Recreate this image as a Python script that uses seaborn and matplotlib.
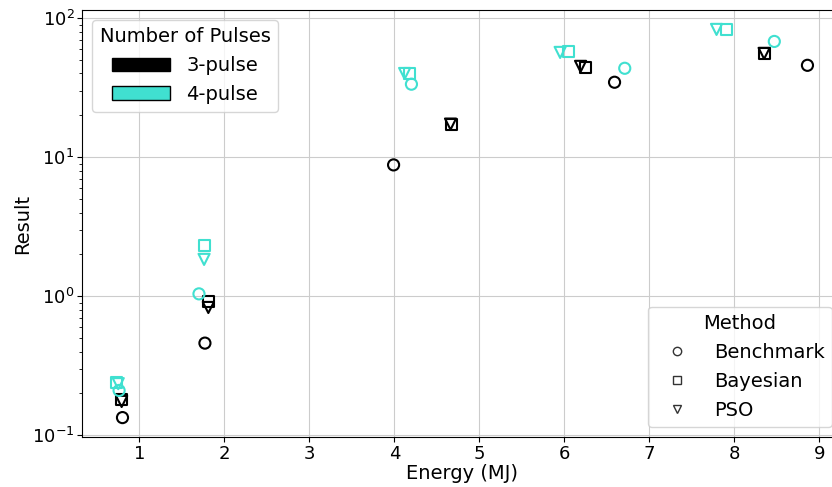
import numpy as np
import pandas as pd
import matplotlib
matplotlib.use('Agg')
import matplotlib.pyplot as plt
import seaborn as sns
from matplotlib.patches import Patch
from matplotlib.lines import Line2D

# Values (energy in MJ, result on log scale)
pulse_labels = ['3-pulse', '4-pulse']
method_labels = ['Benchmark', 'Bayesian', 'PSO']

# 3-pulse runs
bench3_energy = [0.80, 1.77, 3.99, 6.59, 8.86]
bench3_result = [0.134, 0.46, 8.8, 34.6, 45.8]
bayes3_energy = [0.79, 1.81, 4.67, 6.25, 8.35]
bayes3_result = [0.18, 0.91, 17.3, 44.3, 55.8]
pso3_energy = [0.79, 1.81, 4.66, 6.19, 8.35]
pso3_result = [0.175, 0.83, 17.3, 45.0, 55.8]

# 4-pulse runs
bench4_energy = [0.76, 1.70, 4.20, 6.71, 8.47]
bench4_result = [0.21, 1.04, 33.5, 43.6, 68.0]
bayes4_energy = [0.73, 1.77, 4.18, 6.05, 7.91]
bayes4_result = [0.238, 2.32, 40.0, 57.6, 83.0]
pso4_energy = [0.75, 1.76, 4.12, 5.95, 7.79]
pso4_result = [0.235, 1.84, 40.0, 56.7, 83.0]

pulse_colors = {'3-pulse': 'black', '4-pulse': 'turquoise'}
method_markers = {'Benchmark': 'o', 'Bayesian': 's', 'PSO': 'v'}

# Build long-form table for seaborn
series = [
    ('3-pulse', 'Benchmark', bench3_energy, bench3_result),
    ('3-pulse', 'Bayesian', bayes3_energy, bayes3_result),
    ('3-pulse', 'PSO', pso3_energy, pso3_result),
    ('4-pulse', 'Benchmark', bench4_energy, bench4_result),
    ('4-pulse', 'Bayesian', bayes4_energy, bayes4_result),
    ('4-pulse', 'PSO', pso4_energy, pso4_result),
]
rows = []
for pulse, method, xs, ys in series:
    for x, y in zip(xs, ys):
        rows.append({'energy': x, 'result': y, 'pulses': pulse, 'method': method})
df = pd.DataFrame(rows)

plt.rcParams['font.size'] = 14

fig = plt.figure(figsize=(8.32, 4.87), dpi=100)
# axes run slightly past the right edge, like the cropped original
ax = fig.add_axes([82 / 832, 50 / 487, 760 / 832, 427 / 487])

sns.scatterplot(data=df, x='energy', y='result', hue='pulses', style='method',
                palette=pulse_colors, markers=method_markers,
                hue_order=pulse_labels, style_order=method_labels,
                s=64, linewidth=1.5, legend=False, ax=ax, zorder=3)

# hollow markers: move fill colour to the edge
for coll in ax.collections:
    fc = coll.get_facecolors()
    coll.set_edgecolors(fc)
    coll.set_facecolors('none')
    coll.set_linewidth(1.5)

ax.set_yscale('log')
ax.grid(True, which='major', color='#cccccc', linewidth=0.8)
ax.set_axisbelow(True)
ax.tick_params(axis='both', which='major', labelsize=13, pad=2)
ax.set_xlabel('Energy (MJ)', labelpad=1)
ax.set_ylabel('Result', labelpad=0)

# legend for number of pulses
pulse_handles = [Patch(facecolor=pulse_colors[p], edgecolor='black', label=p)
                 for p in pulse_labels]
leg1 = ax.legend(handles=pulse_handles, title='Number of Pulses',
                 loc='upper left', handlelength=3)
ax.add_artist(leg1)

# legend for method
method_handles = [Line2D([], [], linestyle='none', marker=method_markers[m],
                         markerfacecolor='none', markeredgecolor='0.2',
                         markersize=6, markeredgewidth=1, label=m)
                  for m in method_labels]
ax.legend(handles=method_handles, title='Method', loc='lower right',
          handlelength=2.2)

fig.savefig('out.png', dpi=100)
